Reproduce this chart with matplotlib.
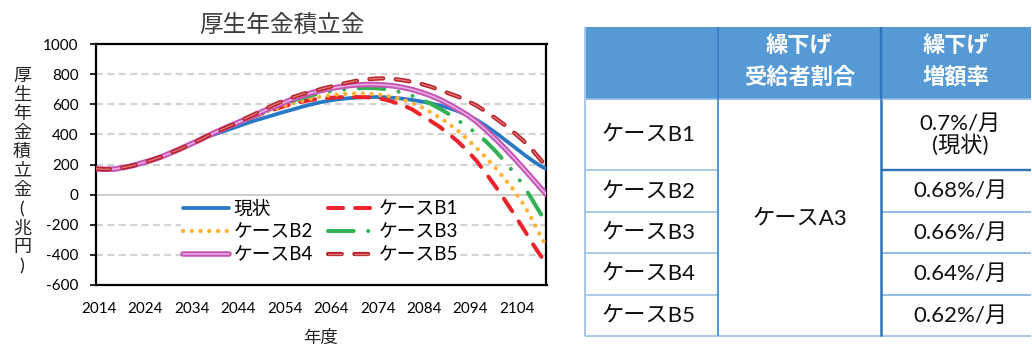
import matplotlib
matplotlib.use("Agg")
import matplotlib.pyplot as plt
from matplotlib.patches import Rectangle
from matplotlib.legend_handler import HandlerTuple
from matplotlib.transforms import ScaledTranslation

plt.rcParams["font.family"] = ["Lato", "Noto Sans CJK JP"]
plt.rcParams["axes.unicode_minus"] = False
plt.rcParams["lines.scale_dashes"] = False

# ---------------------------------------------------------------- data
years = list(range(2014, 2111, 2)) + [2111]

early = [171, 168, 170, 180, 193, 211, 229, 250, 276, 302, 330, 358]  # 2014-2036

genjo = early + [384, 405, 426, 447, 469, 490, 508, 526, 545, 562,
                 580, 596, 611, 623, 632, 639, 644, 647, 648, 647,
                 643, 637, 629, 619, 607, 592, 575, 553, 528, 495,
                 456, 412, 365, 318, 270, 225, 185, 170]
case_b1 = early + [388, 416, 443, 468, 493, 518, 541, 562, 582, 600,
                   615, 627, 636, 642, 646, 648, 648, 647, 643, 633,
                   615, 595, 567, 528, 490, 450, 402, 350, 290, 222,
                   140, 55, -35, -128, -225, -325, -418, -455]
case_b2 = early + [388, 416, 442, 467, 494, 520, 544, 565, 585, 603,
                   620, 635, 648, 658, 665, 669, 671, 671, 667, 659,
                   646, 631, 610, 582, 549, 511, 470, 422, 368, 308,
                   245, 178, 105, 28, -62, -170, -290, -345]
case_b3 = early + [388, 416, 443, 469, 496, 523, 549, 574, 597, 619,
                   639, 656, 671, 683, 693, 700, 705, 708, 707, 702,
                   692, 677, 658, 633, 604, 571, 534, 492, 450, 405,
                   352, 290, 220, 146, 62, -38, -140, -195]
case_b4 = early + [389, 418, 445, 471, 498, 526, 554, 580, 605, 630,
                   652, 672, 688, 702, 713, 722, 728, 731, 731, 728,
                   722, 712, 698, 680, 658, 632, 600, 565, 528, 483,
                   428, 370, 308, 243, 175, 105, 35, 0]
case_b5 = early + [390, 418, 445, 472, 503, 532, 562, 592, 619, 643,
                   663, 681, 697, 713, 728, 742, 755, 764, 770, 772,
                   768, 760, 749, 735, 717, 695, 672, 650, 622, 590,
                   550, 508, 462, 412, 358, 295, 222, 190]

series_names = ["現状", "ケースB1", "ケースB2", "ケースB3", "ケースB4", "ケースB5"]

y_ticks = [-600, -400, -200, 0, 200, 400, 600, 800, 1000]
x_ticks = [2014, 2024, 2034, 2044, 2054, 2064, 2074, 2084, 2094, 2104]

chart_title = "厚生年金積立金"
y_label = "厚生年金積立金(兆円)"
x_label = "年度"

# table contents
table_header = ["", "繰下げ\n受給者割合", "繰下げ\n増額率"]
table_cases = ["ケースB1", "ケースB2", "ケースB3", "ケースB4", "ケースB5"]
table_share = "ケースA3"
table_rates = ["0.7%/月\n(現状)", "0.68%/月", "0.66%/月", "0.64%/月", "0.62%/月"]

# ---------------------------------------------------------------- figure
W, H = 1032, 347
fig = plt.figure(figsize=(W / 100, H / 100), dpi=100)

ax_l, ax_r, ax_t, ax_b = 96, 546.5, 44, 285
ax = fig.add_axes([ax_l / W, 1 - ax_b / H, (ax_r - ax_l) / W, (ax_b - ax_t) / H])

# horizontal grid: dashed, with a solid line at zero
for v in y_ticks[1:-1]:
    if v == 0:
        ax.axhline(v, color="#C8C8C8", lw=1.3, zorder=2.5)
    else:
        ax.axhline(v, color="#D3D3D3", lw=1.6, dashes=(5.0, 3.2), zorder=1)

h_genjo, = ax.plot(years, genjo, color="#2878C4", lw=2.7,
                   solid_capstyle="round", zorder=3)
h_b1, = ax.plot(years, case_b1, color="#EC232B", lw=2.9,
                dashes=(10.8, 8.7), dash_capstyle="round", zorder=4)
h_b2, = ax.plot(years, case_b2, color="#FFB234", lw=3.1,
                dashes=(0.1, 6.2), dash_capstyle="round", zorder=5)
h_b3, = ax.plot(years, case_b3, color="#33B156", lw=2.9,
                dashes=(18.5, 10.4, 0.1, 10.4, 0.1, 10.4),
                dash_capstyle="round", zorder=6)
h_b4o, = ax.plot(years, case_b4, color="#C457B6", lw=4.0,
                 solid_capstyle="round", zorder=7)
h_b4i, = ax.plot(years, case_b4, color="#EBB0E2", lw=1.1,
                 solid_capstyle="round", zorder=7.1)
h_b5o, = ax.plot(years, case_b5, color="#B8242B", lw=3.1,
                 dashes=(9.9, 9.1), dash_capstyle="round", zorder=8)
h_b5i, = ax.plot(years, case_b5, color="#E27A7D", lw=0.9,
                 dashes=(9.9, 9.1), dash_capstyle="round", zorder=8.1)

ax.set_xlim(years[0], years[-1])
ax.set_ylim(y_ticks[0], y_ticks[-1])
ax.set_yticks(y_ticks)
ax.set_yticklabels([str(v) for v in y_ticks])
ax.set_xticks(x_ticks)
ax.set_xticklabels([str(v) for v in x_ticks])
ax.tick_params(axis="y", direction="out", length=4.5, width=1.2,
               pad=8, labelsize=11, colors="black")
ax.tick_params(axis="x", length=0, pad=12, labelsize=11, colors="black")
shift = ScaledTranslation(3 / 100, 0, fig.dpi_scale_trans)
for lbl in ax.get_xticklabels():
    lbl.set_transform(lbl.get_transform() + shift)
for sp in ax.spines.values():
    sp.set_color("black")
    sp.set_linewidth(1.6)

handles = [h_genjo, h_b2, (h_b4o, h_b4i), h_b1, h_b3, (h_b5o, h_b5i)]
labels = [series_names[0], series_names[2], series_names[4],
          series_names[1], series_names[3], series_names[5]]
leg = ax.legend(handles, labels, ncol=2, loc="upper left",
                bbox_to_anchor=(172 / W, 1 - 189 / H),
                bbox_transform=fig.transFigure,
                fontsize=13.5, frameon=True, fancybox=False,
                edgecolor="none", facecolor="white", framealpha=1,
                borderpad=0.1, handlelength=2.45, handletextpad=0.25,
                columnspacing=0.8, labelspacing=0.32,
                handler_map={tuple: HandlerTuple(ndivide=1)})
leg.set_zorder(2)

fig.text(282 / W, 1 - 25 / H, chart_title, fontsize=17, ha="center",
         va="center", color="#3C3C3C")
fig.text(320 / W, 1 - 330 / H, x_label, fontsize=12.5, ha="center",
         va="top", color="#222222")

# stacked vertical axis title
for k, ch in enumerate(y_label):
    fig.text(22 / W, 1 - (76 + 19 * k) / H, ch, fontsize=13, ha="center",
             va="center", color="#222222")

# ---------------------------------------------------------------- table
tx0, tx1, ty0, ty1 = 585, 1031, 27, 336
col_edges = [585, 718, 881, 1031]
row_edges = [27, 99, 170, 212, 253, 295, 336]

tab = fig.add_axes([tx0 / W, 1 - ty1 / H, (tx1 - tx0) / W, (ty1 - ty0) / H])
tab.set_xlim(tx0, tx1)
tab.set_ylim(ty1, ty0)
tab.axis("off")

tab.add_patch(Rectangle((tx0, row_edges[0]), tx1 - tx0,
                        row_edges[1] - row_edges[0],
                        facecolor="#5599D5", edgecolor="none", zorder=1))

light = "#A4C6EA"
mid = "#5A97D4"
dark = "#2E74B8"

def hline(y, x0, x1, color, lw):
    tab.plot([x0, x1], [y, y], color=color, lw=lw, clip_on=False,
             solid_capstyle="butt", zorder=3)

def vline(x, y0, y1, color, lw):
    tab.plot([x, x], [y0, y1], color=color, lw=lw, clip_on=False,
             solid_capstyle="butt", zorder=3)

# body row separators in the case and rate columns
for i, y in enumerate(row_edges[2:-1]):
    hline(y, col_edges[0], col_edges[1], light, 1.3)
    hline(y, col_edges[2], col_edges[3], dark if i == 0 else "#8AB5E3",
          1.7 if i == 0 else 1.3)
hline(row_edges[1], col_edges[0], col_edges[3], "#8DB8E6", 1.2)
hline(row_edges[-1], col_edges[0], col_edges[3], light, 1.4)
vline(col_edges[0], row_edges[0], row_edges[-1], light, 1.4)
vline(col_edges[1], row_edges[0], row_edges[1], "#3D82C6", 1.5)
vline(col_edges[2], row_edges[0], row_edges[1], dark, 1.7)
vline(col_edges[1], row_edges[1], row_edges[-1], mid, 1.5)
vline(col_edges[2], row_edges[1], row_edges[-1], dark, 1.8)

# header text
for c in (1, 2):
    xc = (col_edges[c] + col_edges[c + 1]) / 2
    for k, line in enumerate(table_header[c].split("\n")):
        tab.text(xc, 46.5 + 30.5 * k, line, fontsize=16, fontweight="bold",
                 color="white", ha="center", va="center",
                 family="Noto Sans CJK JP", zorder=4)

# case names
xc0 = (col_edges[0] + col_edges[1]) / 2 - 3
for r, name in enumerate(table_cases):
    yc = (row_edges[r + 1] + row_edges[r + 2]) / 2
    tab.text(xc0, yc, name, fontsize=16, ha="center", va="center",
             color="#111111", zorder=4)

# merged share cell
tab.text((col_edges[1] + col_edges[2]) / 2, (row_edges[1] + row_edges[-1]) / 2 + 1,
         table_share, fontsize=16, ha="center", va="center",
         color="#111111", zorder=4)

# rates
xc2 = (col_edges[2] + col_edges[3]) / 2 + 4
for r, rate in enumerate(table_rates):
    parts = rate.split("\n")
    yc = (row_edges[r + 1] + row_edges[r + 2]) / 2
    n = len(parts)
    for k, line in enumerate(parts):
        tab.text(xc2, yc + (k - (n - 1) / 2) * 20.5, line, fontsize=16,
                 ha="center", va="center", color="#111111", zorder=4)

fig.savefig("out.png", dpi=100)
